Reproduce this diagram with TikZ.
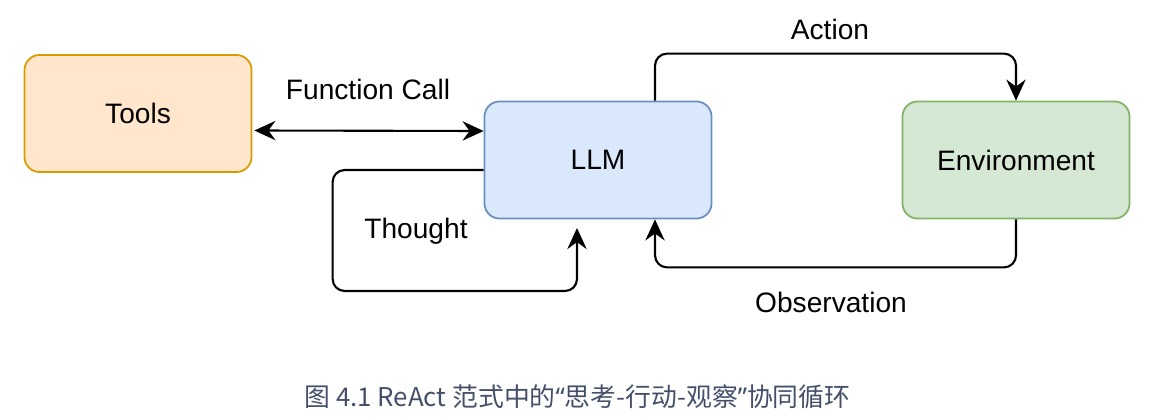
\documentclass[tikz,border=0pt]{standalone}
\usepackage{fontspec}
\setmainfont{Liberation Sans}
\newfontfamily\cjkfont{Noto Sans CJK SC}
\newfontfamily\quotefont{Noto Sans}
\usepackage{xcolor}
\usetikzlibrary{calc,positioning,arrows.meta}

\definecolor{toolfill}{HTML}{FFE6CC}
\definecolor{tooldraw}{HTML}{D79B00}
\definecolor{llmfill}{HTML}{DAE8FC}
\definecolor{llmdraw}{HTML}{6C8EBF}
\definecolor{envfill}{HTML}{D5E8D4}
\definecolor{envdraw}{HTML}{82B366}
\definecolor{captioncol}{HTML}{44506A}

\tikzset{
  flowtip/.tip={Stealth[length=12pt,width=11pt,inset=4pt]},
  box/.style={rounded corners=0.3cm, line width=1pt, minimum width=4.54cm,
    minimum height=2.34cm, font=\fontsize{16}{19}\selectfont},
  flow/.style={line width=1.2pt, rounded corners=0.24cm, -flowtip},
  lbl/.style={font=\fontsize{16}{19}\selectfont}
}

\begin{document}
\begin{tikzpicture}
  \useasboundingbox (0,0) rectangle (23,-8.4);
  % --- boxes ---
  \node[box, fill=toolfill, draw=tooldraw] (tools) at (2.76,-2.27) {Tools};
  \node[box, fill=llmfill, draw=llmdraw] (llm) at (11.96,-3.20) {LLM};
  \node[box, fill=envfill, draw=envdraw] (env) at (20.32,-3.20) {Environment};
  % --- function call ---
  \draw[flow, flowtip-flowtip]
    ($(tools.east)+(0.04,-0.34)$) -- ($(llm.west)+(0,0.58)$);
  \node[lbl] (fc) at (7.36,-1.78) {Function Call};
  % --- thought loop ---
  \coordinate (th) at (11.54,-4.56);
  \draw[flow] ([yshift=-0.2cm]llm.west) -- ++(-3.02,0) |- (11.54,-5.82) -- (th);
  \node[lbl] (thought) at (8.32,-4.62) {Thought};
  % --- action / observation ---
  \draw[flow] ([xshift=1.14cm]llm.north) -- ++(0,0.94) -| (env.north);
  \node[lbl] (action) at (16.6,-0.58) {Action};
  \draw[flow] (env.south) -- ++(0,-0.96) -| ([xshift=1.14cm]llm.south);
  \node[lbl] (obs) at (16.62,-6.04) {Observation};
  % --- caption ---
  \node[font=\cjkfont\fontsize{14.7}{17}\selectfont, text=captioncol] (cap) at (11.55,-7.94)
    {图 4.1 ReAct 范式中的{\quotefont “}思考-行动-观察{\quotefont ”}协同循环};
\end{tikzpicture}
\end{document}
